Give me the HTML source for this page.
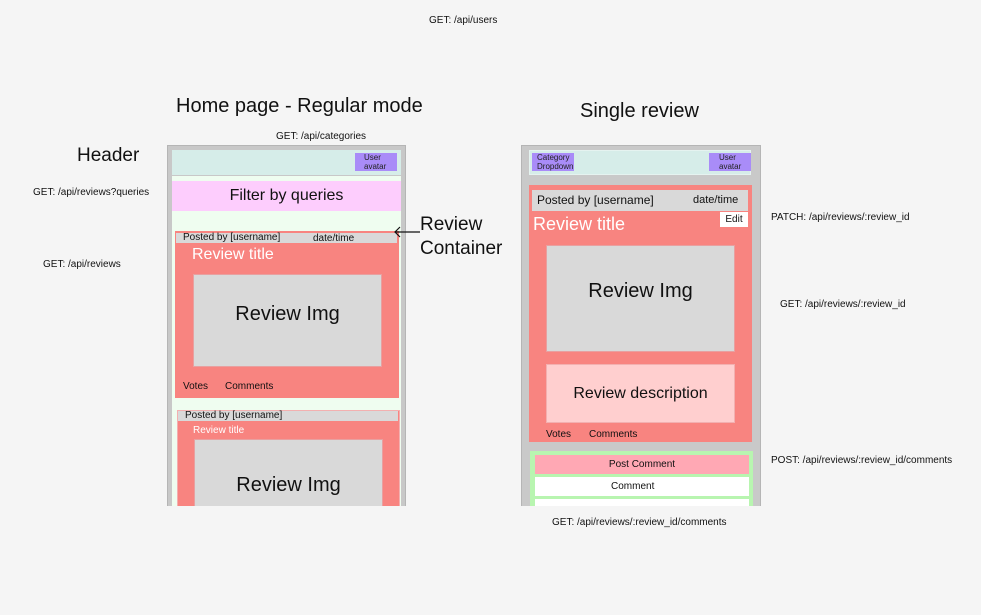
<!DOCTYPE html>
<html><head><meta charset="utf-8"><style>
body{margin:0;width:981px;height:615px;background:#f5f5f5;position:relative;overflow:hidden;font-family:"Liberation Sans",sans-serif;color:#111}
div{position:absolute;box-sizing:border-box}
.t{white-space:nowrap}
</style></head><body>
<div class="t" style="left:429px;top:15px;font-size:10px">GET: /api/users</div>
<div class="t" style="left:176px;top:95px;font-size:20px">Home page - Regular mode</div>
<div class="t" style="left:580px;top:100px;font-size:20px">Single review</div>
<div class="t" style="left:276px;top:131px;font-size:10px">GET: /api/categories</div>
<div class="t" style="left:77px;top:145px;font-size:19px">Header</div>
<div class="t" style="left:33px;top:187px;font-size:10px">GET: /api/reviews?queries</div>
<div class="t" style="left:43px;top:259px;font-size:10px">GET: /api/reviews</div>
<div class="t" style="left:420px;top:213px;font-size:19px;line-height:24px">Review<br>Container</div>

<!-- left frame -->
<div style="left:167px;top:145px;width:239px;height:361px;background:#c8c8c8;border:1px solid #b5b5b5;border-bottom:none"></div>
<div style="left:172px;top:176px;width:229px;height:330px;background:#effdf0"></div>
<div style="left:172px;top:150px;width:229px;height:25px;background:#d6ede9"></div>
<div style="left:355px;top:153px;width:42px;height:18px;background:#a98cf8;font-size:8px;line-height:9px;padding:0 0 0 9px;color:#222">User<br>avatar</div>
<div style="left:172px;top:181px;width:229px;height:30px;background:#fdcdfd;font-size:16px;text-align:center;line-height:30px">Filter by queries</div>
<div style="left:175px;top:231px;width:224px;height:167px;background:#f88480"></div>
<div style="left:176px;top:233px;width:221px;height:10px;background:#d9d9d9;font-size:10px;line-height:10px"><span style="position:absolute;left:7px">Posted by [username]</span><span style="position:absolute;left:137px;top:1px">date/time</span></div>
<div class="t" style="left:192px;top:246px;font-size:16px;color:#fff">Review title</div>
<div style="left:193px;top:274px;width:189px;height:93px;background:#d9d9d9;border:1px solid #e8a0a0;font-size:20px;text-align:center;line-height:78px">Review Img</div>
<div class="t" style="left:183px;top:381px;font-size:10px">Votes</div>
<div class="t" style="left:225px;top:381px;font-size:10px">Comments</div>
<div style="left:177px;top:410px;width:223px;height:96px;background:#f88480;border:1px solid #f3b0b0;border-bottom:none"></div>
<div style="left:178px;top:411px;width:220px;height:10px;background:#d9d9d9;font-size:10px;line-height:10px;padding-left:7px">Posted by [username]</div>
<div class="t" style="left:193px;top:425px;font-size:10px;color:#fff">Review title</div>
<div style="left:194px;top:439px;width:189px;height:67px;background:#d9d9d9;border:1px solid #e8a0a0;border-bottom:none;font-size:20px;text-align:center;line-height:90px">Review Img</div>

<svg style="position:absolute;left:390px;top:225px" width="32" height="14"><line x1="5" y1="7" x2="30" y2="7" stroke="#111" stroke-width="1.2"/><polyline points="10,2 5,7 10,12" fill="none" stroke="#111" stroke-width="1.2"/></svg>

<!-- right frame -->
<div style="left:521px;top:145px;width:240px;height:361px;background:#c9c9c9;border:1px solid #b5b5b5;border-bottom:none"></div>
<div style="left:529px;top:150px;width:222px;height:25px;background:#d6ede9;border:1px solid #e5f3f0"></div>
<div style="left:532px;top:153px;width:42px;height:18px;background:#a98cf8;font-size:8px;line-height:9px;padding:0 0 0 5px;color:#222">Category<br>Dropdown</div>
<div style="left:709px;top:153px;width:42px;height:18px;background:#a98cf8;font-size:8px;line-height:9px;padding:0 0 0 10px;color:#222">User<br>avatar</div>
<div style="left:529px;top:185px;width:223px;height:257px;background:#f88480"></div>
<div style="left:532px;top:190px;width:216px;height:21px;background:#d9d9d9;font-size:12px;line-height:21px"><span style="position:absolute;left:5px">Posted by [username]</span><span style="position:absolute;left:161px;font-size:11px">date/time</span></div>
<div style="left:720px;top:212px;width:28px;height:15px;background:#fff;font-size:10px;line-height:15px;text-align:center">Edit</div>
<div class="t" style="left:533px;top:214px;font-size:18px;color:#fff">Review title</div>
<div style="left:546px;top:245px;width:189px;height:107px;background:#d9d9d9;border:1px solid #e8a0a0;font-size:20px;text-align:center;line-height:90px">Review Img</div>
<div style="left:546px;top:364px;width:189px;height:59px;background:#ffcfcf;border:1px solid #f3b0b0;font-size:16px;text-align:center;line-height:57px">Review description</div>
<div class="t" style="left:546px;top:429px;font-size:10px">Votes</div>
<div class="t" style="left:589px;top:429px;font-size:10px">Comments</div>
<div style="left:530px;top:451px;width:223px;height:55px;background:#b8f5b0"></div>
<div style="left:535px;top:455px;width:214px;height:19px;background:#ffa8b4;font-size:10px;line-height:19px;text-align:center">Post Comment</div>
<div style="left:535px;top:477px;width:214px;height:19px;background:#fff;font-size:10px;line-height:19px;padding-left:76px">Comment</div>
<div style="left:535px;top:499px;width:214px;height:7px;background:#fff"></div>

<div class="t" style="left:771px;top:212px;font-size:10px">PATCH: /api/reviews/:review_id</div>
<div class="t" style="left:780px;top:299px;font-size:10px">GET: /api/reviews/:review_id</div>
<div class="t" style="left:771px;top:455px;font-size:10px">POST: /api/reviews/:review_id/comments</div>
<div class="t" style="left:552px;top:517px;font-size:10px">GET: /api/reviews/:review_id/comments</div>
</body></html>
